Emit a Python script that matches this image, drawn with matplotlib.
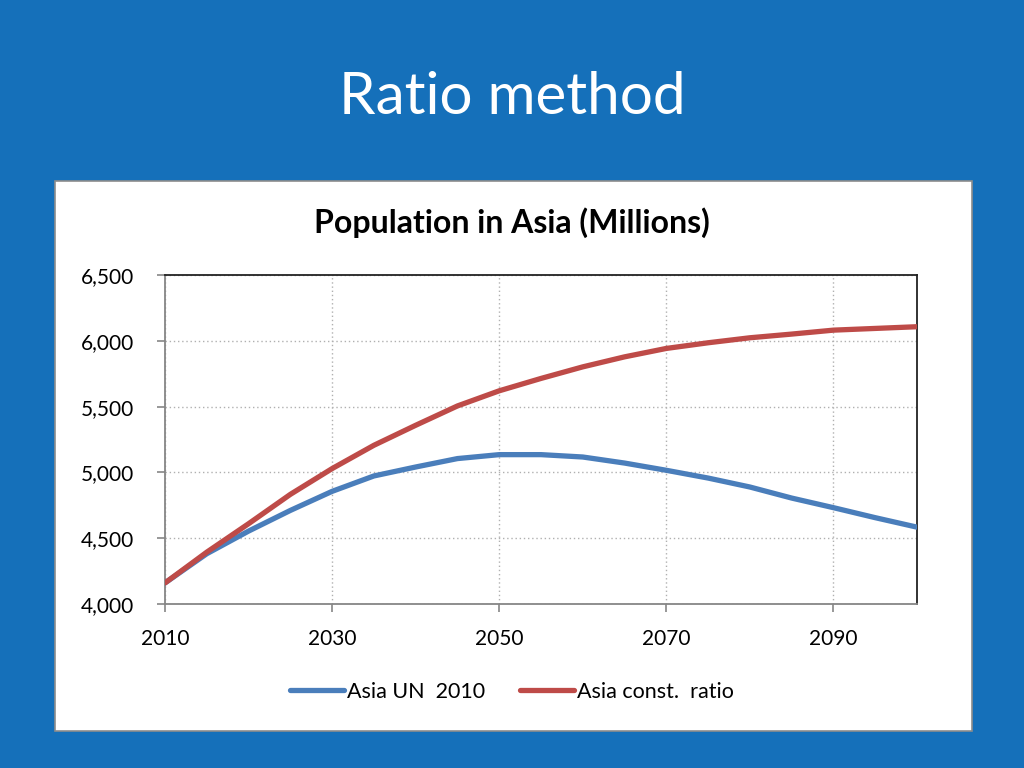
import matplotlib
matplotlib.use("Agg")
import matplotlib.pyplot as plt
from matplotlib.patches import Rectangle
from matplotlib.ticker import FuncFormatter, MultipleLocator

years = list(range(2010, 2101, 5))
asia_un_2010 = [4160, 4382, 4554, 4711, 4856, 4973, 5041, 5105, 5135, 5135,
                5117, 5071, 5016, 4957, 4889, 4805, 4732, 4656, 4584]
asia_const_ratio = [4160, 4394, 4610, 4833, 5029, 5206, 5358, 5505, 5620, 5714,
                    5802, 5878, 5942, 5985, 6023, 6051, 6081, 6094, 6107]
series_labels = ["Asia UN  2010", "Asia const.  ratio"]
x_ticks = [2010, 2030, 2050, 2070, 2090]

FONT = ["Lato", "DejaVu Sans"]
plt.rcParams['font.family'] = FONT

fig = plt.figure(figsize=(10.24, 7.68), dpi=100)
fig.patch.set_facecolor("#1570BA")

# white panel as a background axes
bg = fig.add_axes([0, 0, 1, 1], zorder=0)
bg.set_xlim(0, 1024)
bg.set_ylim(768, 0)
bg.axis("off")
bg.add_patch(Rectangle((55, 181), 972 - 55, 731 - 181, facecolor="white",
                       edgecolor="#8c8c8c", linewidth=1.2))

fig.text(0.5, 1 - 97 / 768, "Ratio method", ha="center", va="center",
         color="white", fontsize=42, zorder=5)
fig.text(0.5, 1 - 223 / 768, "Population in Asia (Millions)", ha="center", va="center",
         color="black", fontsize=23, fontweight="bold", zorder=5)

ax = fig.add_axes([165 / 1024, 1 - 604 / 768, (917 - 165) / 1024, (604 - 275) / 768],
                  zorder=2)
ax.set_facecolor("white")
ax.plot(years, asia_un_2010, color="#4A7EBB", lw=3.8, label=series_labels[0],
        solid_capstyle="round", zorder=3)
ax.plot(years, asia_const_ratio, color="#BE4B48", lw=3.8, label=series_labels[1],
        solid_capstyle="round", zorder=3)

ax.set_xlim(2010, 2100)
ax.set_ylim(4000, 6500)
ax.set_xticks(x_ticks)
ax.yaxis.set_major_locator(MultipleLocator(500))
ax.yaxis.set_major_formatter(FuncFormatter(lambda v, p: f"{int(v):,}"))
ax.grid(True, color="#b0b0b0", linestyle=(0, (1, 2)), linewidth=1)
ax.tick_params(axis="both", labelsize=15, color="#868686", length=6, width=1.2)
ax.tick_params(axis="y", pad=16)
ax.tick_params(axis="x", pad=12)
for lab in ax.get_xticklabels() + ax.get_yticklabels():
    lab.set_clip_on(False)

ax.spines["left"].set_color("#868686")
ax.spines["bottom"].set_color("#868686")
ax.spines["top"].set_color("#222222")
ax.spines["right"].set_color("#222222")
for s in ax.spines.values():
    s.set_linewidth(1.3)

leg = fig.legend(loc="center", bbox_to_anchor=(0.5, 1 - 692 / 768), ncol=2,
                 frameon=False, fontsize=15.5, handlelength=2.5, columnspacing=1.6,
                 handletextpad=0.15)
leg.set_zorder(5)

fig.savefig("out.png", dpi=100, facecolor=fig.get_facecolor())
